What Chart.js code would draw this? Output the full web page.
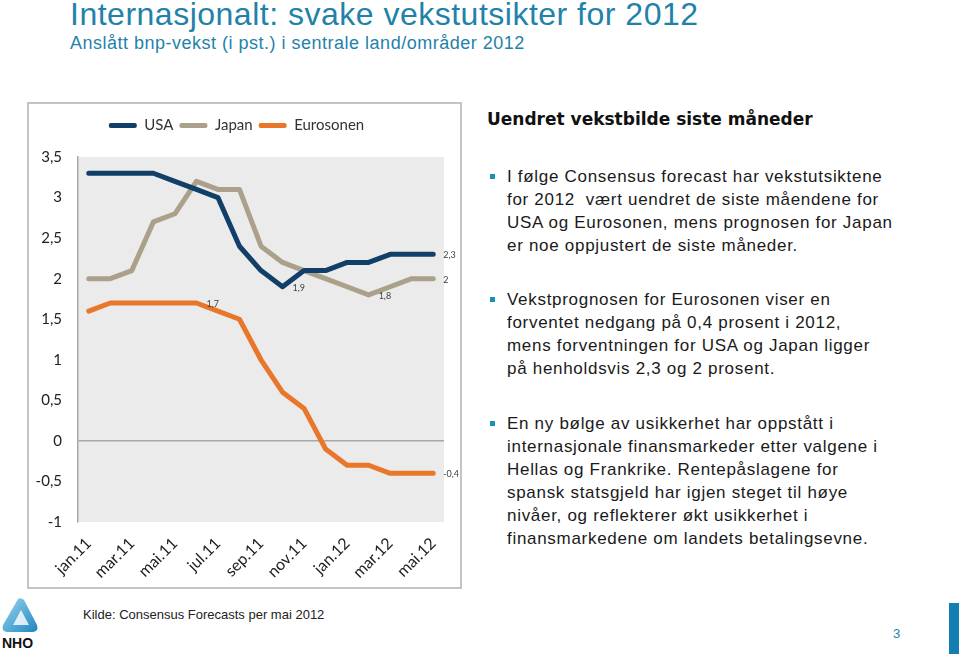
<!DOCTYPE html>
<html lang="no">
<head>
<meta charset="utf-8">
<title>Internasjonalt: svake vekstutsikter for 2012</title>
<script src="https://cdn.jsdelivr.net/npm/chart.js@4.4.0/dist/chart.umd.min.js"></script>
<style>
  html, body { margin: 0; padding: 0; background: #fff; }
  #page { position: relative; width: 959px; height: 654px; overflow: hidden; font-family: "Liberation Sans", Arial, sans-serif; }
  .title { position: absolute; left: 70px; top: -4px; font-size: 32px; letter-spacing: 0.5px; color: #1f82aa; white-space: nowrap; }
  .subtitle { position: absolute; left: 70px; top: 33px; font-size: 18px; letter-spacing: 0.5px; color: #1f82aa; white-space: nowrap; }
  #chartBox { position: absolute; left: 27px; top: 102px; width: 431px; height: 483px; border: 2px solid #c4c4c4; }
  #chartBox canvas { display: block; }
  .heading { position: absolute; left: 487px; top: 109px; font-family: "DejaVu Sans", sans-serif; font-weight: bold; font-size: 17px; color: #111; white-space: nowrap; }
  .bullet { position: absolute; left: 507px; font-size: 17px; letter-spacing: 0.7px; line-height: 23px; color: #1a1a1a; white-space: nowrap; }
  .bullet::before { content: ""; position: absolute; left: -17px; top: 9px; width: 5px; height: 5px; background: #1a8fb8; }
  .source { position: absolute; left: 83px; top: 607px; font-size: 13px; color: #222; }
  .pageno { position: absolute; left: 893px; top: 626px; font-size: 13px; color: #1f82aa; }
  .bar { position: absolute; left: 949px; top: 603px; width: 10px; height: 51px; background: #127fb0; }
  .logo { position: absolute; left: 0px; top: 597px; }
</style>
</head>
<body>
<div id="page">
  <div class="title">Internasjonalt: svake vekstutsikter for 2012</div>
  <div class="subtitle">Anslått bnp-vekst (i pst.) i sentrale land/områder 2012</div>

  <div id="chartBox"><canvas id="growthChart" width="431" height="483"></canvas></div>

  <div class="heading">Uendret vekstbilde siste måneder</div>
  <div class="bullet" style="top:165px">I følge Consensus forecast har vekstutsiktene<br>for 2012&nbsp; vært uendret de siste måendene for<br>USA og Eurosonen, mens prognosen for Japan<br>er noe oppjustert de siste måneder.</div>
  <div class="bullet" style="top:288px">Vekstprognosen for Eurosonen viser en<br>forventet nedgang på 0,4 prosent i 2012,<br>mens forventningen for USA og Japan ligger<br>på henholdsvis 2,3 og 2 prosent.</div>
  <div class="bullet" style="top:412px">En ny bølge av usikkerhet har oppstått i<br>internasjonale finansmarkeder etter valgene i<br>Hellas og Frankrike. Rentepåslagene for<br>spansk statsgjeld har igjen steget til høye<br>nivåer, og reflekterer økt usikkerhet i<br>finansmarkedene om landets betalingsevne.</div>

  <svg class="logo" width="42" height="54" viewBox="0 0 42 54">
    <defs>
      <linearGradient id="nhoGrad" x1="0" y1="0" x2="1" y2="1">
        <stop offset="0" stop-color="#9ad6ef"/>
        <stop offset="1" stop-color="#1f86c0"/>
      </linearGradient>
    </defs>
    <path d="M18 2 Q21 0 24 3 L37 28 Q39 34 33 35 L7 35 Q1 34 3 28 Z" fill="url(#nhoGrad)"/>
    <path d="M21 13 L29 28 L13 28 Z" fill="#ffffff" opacity="0.8"/>
    <text x="2" y="51" font-family="Liberation Sans, Arial, sans-serif" font-size="14" font-weight="bold" fill="#111">NHO</text>
  </svg>
  <div class="source">Kilde: Consensus Forecasts per mai 2012</div>
  <div class="pageno">3</div>
  <div class="bar"></div>
</div>

<script>
//Chart data
const months = ['jan.11', 'feb.11', 'mar.11', 'apr.11', 'mai.11', 'jun.11', 'jul.11', 'aug.11', 'sep.11',
  'okt.11', 'nov.11', 'des.11', 'jan.12', 'feb.12', 'mar.12', 'apr.12', 'mai.12'];
const seriesNames = ['USA', 'Japan', 'Eurosonen'];
const usa = [3.3, 3.3, 3.3, 3.3, 3.2, 3.1, 3.0, 2.4, 2.1, 1.9, 2.1, 2.1, 2.2, 2.2, 2.3, 2.3, 2.3];
const japan = [2.0, 2.0, 2.1, 2.7, 2.8, 3.2, 3.1, 3.1, 2.4, 2.2, 2.1, 2.0, 1.9, 1.8, 1.9, 2.0, 2.0];
const eurosonen = [1.6, 1.7, 1.7, 1.7, 1.7, 1.7, 1.6, 1.5, 1.0, 0.6, 0.4, -0.1, -0.3, -0.3, -0.4, -0.4, -0.4];
const yMin = -1;
const yMax = 3.5;
const yStep = 0.5;
//[series, point] pairs that carry a value label
const labelledPoints = [[2, 5], [0, 9], [1, 13], [0, 16], [1, 16], [2, 16]];

const colors = ['#123f68', '#aba08a', '#e8772a'];
const chartFont = 'Lato, "Open Sans", sans-serif';

//Norwegian decimal comma
function fmt(v) {
  return String(v).replace('.', ',');
}

//Grey plot area background
const plotBackground = {
  id: 'plotBackground',
  beforeDraw(chart) {
    const { ctx, chartArea } = chart;
    ctx.save();
    ctx.fillStyle = '#ebebeb';
    ctx.fillRect(chartArea.left, chartArea.top, chartArea.right - chartArea.left, chartArea.bottom - chartArea.top);
    ctx.restore();
  }
};

//Fixed legend height so the plot starts where the reference does
const legendHeight = {
  id: 'legendHeight',
  beforeInit(chart) {
    const fit = chart.legend.fit;
    chart.legend.fit = function () {
      fit.bind(chart.legend)();
      this.height = 45;
    };
  }
};

//Value labels to the right of selected points
const valueLabels = {
  id: 'valueLabels',
  afterDatasetsDraw(chart) {
    const ctx = chart.ctx;
    ctx.save();
    ctx.font = '9px ' + chartFont;
    ctx.fillStyle = '#404040';
    ctx.textAlign = 'left';
    ctx.textBaseline = 'middle';
    labelledPoints.forEach(([ds, i]) => {
      const pt = chart.getDatasetMeta(ds).data[i];
      const value = chart.data.datasets[ds].data[i];
      ctx.fillText(fmt(value), pt.x + 10, pt.y + 1);
    });
    ctx.restore();
  }
};

function createChart() {
  const ctx = document.getElementById('growthChart').getContext('2d');
  const seriesData = [usa, japan, eurosonen];

  /* global Chart */
  return new Chart(ctx, {
    type: 'line',
    data: {
      labels: months,
      datasets: seriesData.map((data, k) => ({
        label: seriesNames[k],
        data: data,
        borderColor: colors[k],
        backgroundColor: colors[k],
        borderWidth: 5,
        borderCapStyle: 'round',
        borderJoinStyle: 'round',
        pointRadius: 0,
        tension: 0
      }))
    },
    options: {
      responsive: false,
      animation: false,
      layout: { autoPadding: false, padding: { top: 8, right: 16, left: 0, bottom: 0 } },
      plugins: {
        legend: {
          position: 'top',
          labels: {
            font: { family: chartFont, size: 15 },
            color: '#333',
            boxWidth: 28,
            boxHeight: 5,
            padding: 6,
            useBorderRadius: true,
            borderRadius: 2,
            generateLabels(chart) {
              return Chart.defaults.plugins.legend.labels.generateLabels(chart)
                .map(l => ({ ...l, lineWidth: 0 }));
            }
          }
        },
        tooltip: { enabled: false }
      },
      scales: {
        x: {
          offset: true,
          grid: { display: false },
          border: { display: false },
          ticks: {
            autoSkip: false,
            maxRotation: 45,
            minRotation: 45,
            padding: 4,
            color: '#222',
            font: { family: chartFont, size: 16 },
            callback: function (value, index) {
              return index % 2 === 0 ? this.getLabelForValue(value) : '';
            }
          },
          afterFit(scale) { scale.height = 65; }
        },
        y: {
          min: yMin,
          max: yMax,
          border: { display: true, color: '#a8a8a8', width: 1.5 },
          grid: {
            drawTicks: false,
            color: c => (c.tick && c.tick.value === 0 ? '#a8a8a8' : 'rgba(0,0,0,0)'),
            lineWidth: 1.5
          },
          ticks: {
            stepSize: yStep,
            padding: 16,
            color: '#222',
            font: { family: chartFont, size: 15 },
            callback: v => fmt(v)
          },
          afterFit(scale) { scale.width = 49; }
        }
      }
    },
    plugins: [plotBackground, legendHeight, valueLabels]
  });
}

document.addEventListener('DOMContentLoaded', createChart);
</script>
</body>
</html>
